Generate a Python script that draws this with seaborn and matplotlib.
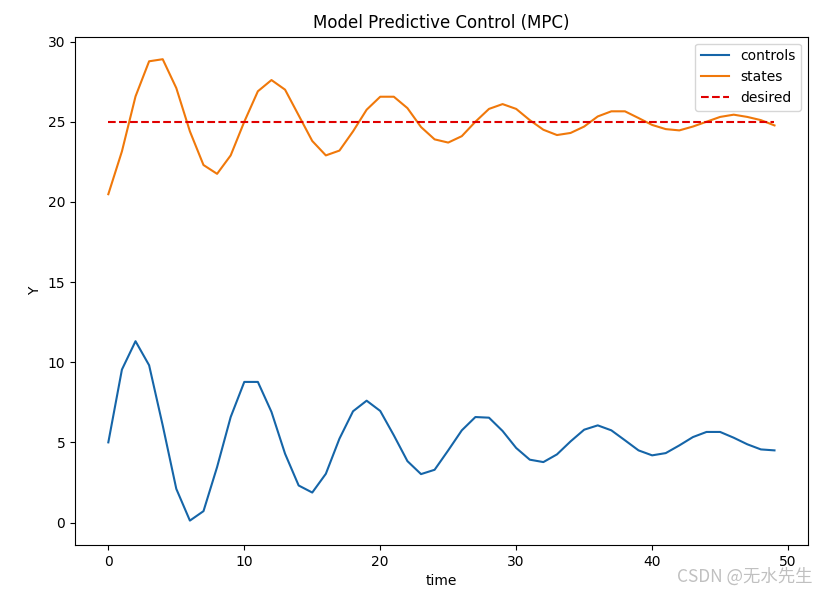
import numpy as np
import pandas as pd

import matplotlib
matplotlib.use('Agg')
import matplotlib.pyplot as plt
import seaborn as sns

# values
time = list(range(50))
controls = [5.0, 9.54, 11.31, 9.81, 6.06, 2.1, 0.12, 0.71, 3.46, 6.58,
            8.77, 8.77, 6.9, 4.29, 2.31, 1.87, 3.04, 5.23, 6.94, 7.6,
            6.96, 5.44, 3.83, 3.02, 3.29, 4.5, 5.75, 6.58, 6.54, 5.71,
            4.65, 3.92, 3.77, 4.25, 5.06, 5.79, 6.06, 5.75, 5.13, 4.5,
            4.19, 4.33, 4.81, 5.33, 5.65, 5.65, 5.29, 4.88, 4.56, 4.5]
states = [20.48, 23.15, 26.58, 28.77, 28.9, 27.1, 24.4, 22.3, 21.75, 22.9,
          25.0, 26.9, 27.6, 27.0, 25.4, 23.8, 22.9, 23.2, 24.4, 25.75,
          26.56, 26.56, 25.85, 24.67, 23.9, 23.7, 24.1, 25.0, 25.8, 26.1,
          25.8, 25.1, 24.5, 24.17, 24.3, 24.7, 25.33, 25.65, 25.65, 25.23,
          24.8, 24.54, 24.46, 24.7, 25.0, 25.3, 25.44, 25.3, 25.1, 24.77]
desired = [25.0] * 50

df = pd.DataFrame({'time': time, 'controls': controls, 'states': states, 'desired': desired})

fig = plt.figure(figsize=(8.28, 5.93), dpi=100)
ax = fig.add_axes([0.0906, 0.081, 0.885, 0.857])

sns.lineplot(data=df, x='time', y='controls', color='#1565a8', label='controls', ax=ax)
sns.lineplot(data=df, x='time', y='states', color='#f0780a', label='states', ax=ax)
sns.lineplot(data=df, x='time', y='desired', color='#e00000', linestyle='--', label='desired', ax=ax)

ax.set_title('Model Predictive Control (MPC)')
ax.set_xlabel('time')
ax.set_ylabel('Y')
ax.set_xlim(-2.45, 51.45)
ax.set_ylim(-1.4, 30.3)
ax.legend(loc='upper right')

# CSDN watermark
fig.text(0.981, 0.028, 'CSDN @无水先生', ha='right', va='center', fontsize=12.5,
         color='#c0c0c0', family=['Noto Sans CJK SC', 'DejaVu Sans'])

fig.savefig('out.png', dpi=100)
